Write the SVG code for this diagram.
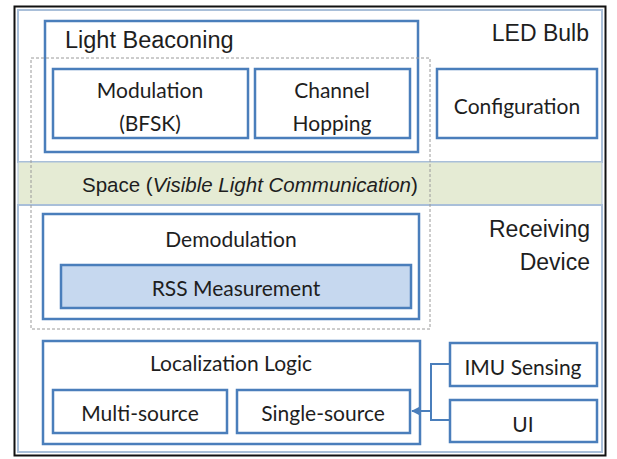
<svg xmlns="http://www.w3.org/2000/svg" width="617" height="459" viewBox="0 0 617 459">
<defs>
<style>
.panel{fill:#fff;stroke:#a9bfd9;stroke-width:2}
.box{fill:#fff;stroke:#4a7ebb;stroke-width:2.5}
.t{font-family:Lato,"Open Sans",sans-serif;font-size:21px;fill:#1e1e1e;text-anchor:middle}
.a{font-family:"Liberation Sans",Arial,sans-serif;fill:#1e1e1e}
.conn{fill:none;stroke:#4a7ebb;stroke-width:2}
</style>
<marker id="arr" viewBox="0 0 10 10" refX="9" refY="5" markerWidth="4" markerHeight="4" orient="auto">
<path d="M0,0 L10,5 L0,10 z" fill="#4a7ebb"/>
</marker>
</defs>
<rect x="0" y="0" width="617" height="459" fill="#fff"/>
<rect x="14.5" y="6.5" width="591" height="449" fill="#fff" stroke="#111" stroke-width="2"/>
<g id="led-bulb">
<rect class="panel" x="18" y="10" width="584" height="152"/>
<text class="a" x="589" y="41" font-size="23" text-anchor="end">LED Bulb</text>
</g>
<g id="space">
<rect x="18" y="162" width="584" height="43" fill="#e5ebd4" stroke="#a9bfd9" stroke-width="1"/>
<text class="a" x="82" y="192" font-size="20.5">Space (<tspan font-style="italic">Visible Light Communication</tspan>)</text>
</g>
<g id="receiving-device">
<rect class="panel" x="18" y="205" width="584" height="247"/>
<text class="a" x="590" y="237" font-size="23" text-anchor="end">Receiving</text>
<text class="a" x="590" y="270" font-size="23" text-anchor="end">Device</text>
</g>
<g id="light-beaconing">
<rect class="box" x="45" y="21" width="373" height="131"/>
<text class="a" x="65" y="48" font-size="23.5">Light Beaconing</text>
</g>
<g id="modulation">
<rect class="box" x="53" y="69" width="195" height="69"/>
<text class="t" x="150" y="98">Modulation</text>
<text class="t" x="150" y="131">(BFSK)</text>
</g>
<g id="channel-hopping">
<rect class="box" x="255" y="69" width="155" height="69"/>
<text class="t" x="332" y="98">Channel</text>
<text class="t" x="332" y="131">Hopping</text>
</g>
<g id="configuration">
<rect class="box" x="437" y="69" width="160" height="69"/>
<text class="t" x="517" y="114">Configuration</text>
</g>
<g id="demodulation">
<rect class="box" x="43" y="214" width="376" height="105"/>
<text class="t" x="231" y="247">Demodulation</text>
</g>
<g id="rss-measurement">
<rect x="61" y="265" width="350" height="43" fill="#c6d8ef" stroke="#4a7ebb" stroke-width="2.5"/>
<text class="t" x="236" y="296">RSS Measurement</text>
</g>
<rect x="31" y="58" width="399" height="271" fill="none" stroke="#9a9a9a" stroke-width="1" stroke-dasharray="3,2"/>
<g id="localization-logic">
<rect class="box" x="43" y="341" width="377" height="103"/>
<text class="t" x="231" y="371">Localization Logic</text>
</g>
<g id="multi-source">
<rect class="box" x="53" y="390" width="174" height="43"/>
<text class="t" x="140" y="421">Multi-source</text>
</g>
<g id="single-source">
<rect class="box" x="237" y="390" width="173" height="43"/>
<text class="t" x="323" y="421">Single-source</text>
</g>
<g id="imu-sensing">
<rect class="box" x="450" y="343" width="147" height="43"/>
<text class="t" x="523" y="375">IMU Sensing</text>
</g>
<g id="ui">
<rect class="box" x="450" y="400" width="147" height="42"/>
<text class="t" x="523" y="432">UI</text>
</g>
<g id="connectors">
<path class="conn" d="M450,364 H431 V420 H450"/>
<path class="conn" d="M431,411 H412" stroke-width="2.5" marker-end="url(#arr)"/>
</g>
</svg>
